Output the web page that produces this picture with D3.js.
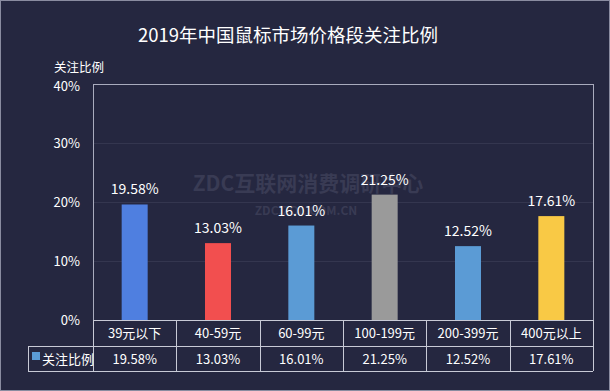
<!DOCTYPE html>
<html><head><meta charset="utf-8">
<script src="https://cdn.jsdelivr.net/npm/d3@7"></script>
<style>
html,body{margin:0;padding:0;background:#252740;}
svg{display:block;}
text{font-family:"Noto Sans CJK SC","Open Sans",sans-serif;}
</style></head>
<body>
<svg id="c" width="610" height="391"></svg>
<script>
const title = "2019年中国鼠标市场价格段关注比例";
const seriesName = "关注比例";
const categories = ["39元以下","40-59元","60-99元","100-199元","200-399元","400元以上"];
const values = [19.58, 13.03, 16.01, 21.25, 12.52, 17.61];
const colors = ["#4F7FE0","#F24F4F","#5B9BD5","#9A9A9A","#5B9BD5","#F9C945"];
const yTicks = [0,10,20,30,40];
const watermark = ["ZDC互联网消费调研中心","ZDC.ZOL.COM.CN"];

(function(){
const svg = d3.select("#c");
const W = 610, H = 391;
svg.append("rect").attr("x",0.5).attr("y",0.5).attr("width",W-1).attr("height",H-1)
  .attr("fill","#252740").attr("stroke","#8a8ca0").attr("stroke-width",1);

const pl = 93, pr = 593, pt = 84, pb = 320;
const x = d3.scaleBand().domain(categories).range([pl,pr]).paddingInner(0).paddingOuter(0);
const y = d3.scaleLinear().domain([0,40]).range([pb,pt]);

// watermark
svg.append("text").attr("x",308).attr("y",191).attr("text-anchor","middle")
  .attr("font-size",21).attr("font-weight","bold").attr("fill","#393b54").text(watermark[0]);
svg.append("text").attr("x",306).attr("y",215).attr("text-anchor","middle")
  .attr("font-size",12).attr("font-weight","bold").attr("fill","#393b54").text(watermark[1]);

// gridlines
svg.append("g").selectAll("line").data(yTicks.filter(t=>t>0 && t<40)).join("line")
  .attr("x1",pl).attr("x2",pr).attr("y1",d=>y(d)+0.5).attr("y2",d=>y(d)+0.5)
  .attr("stroke","#34364f").attr("stroke-width",1);

// plot frame
svg.append("rect").attr("x",pl+0.5).attr("y",pt+0.5).attr("width",pr-pl).attr("height",pb-pt)
  .attr("fill","none").attr("stroke","#a9abbd").attr("stroke-width",1);

// y axis
const yAxis = d3.axisLeft(y).tickValues(yTicks).tickFormat(d=>d+"%").tickSize(0).tickPadding(13);
const ga = svg.append("g").attr("transform",`translate(${pl},0)`).call(yAxis);
ga.select(".domain").remove();
ga.selectAll("text").attr("fill","#ffffff").attr("font-size",13)
  .style("font-family",'"Noto Sans CJK SC","Open Sans",sans-serif');
ga.selectAll(".tick").filter(d=>d===40).select("text").attr("dy","0.5em");
svg.append("text").attr("x",54).attr("y",72).attr("text-anchor","start").attr("font-size",12.5)
  .attr("fill","#ffffff").text(seriesName);

// bars
const bw = 26;
svg.append("g").selectAll("rect").data(values).join("rect")
  .attr("x",(d,i)=>x(categories[i])+x.bandwidth()/2-bw/2)
  .attr("width",bw)
  .attr("y",d=>y(d)).attr("height",d=>y(0)-y(d))
  .attr("fill",(d,i)=>colors[i]);

svg.append("g").selectAll("text").data(values).join("text")
  .attr("x",(d,i)=>x(categories[i])+x.bandwidth()/2)
  .attr("y",d=>y(d)-10)
  .attr("text-anchor","middle").attr("font-size",14).attr("fill","#ffffff")
  .text(d=>d.toFixed(2)+"%");

// title
svg.append("text").attr("x",288).attr("y",42).attr("text-anchor","middle")
  .attr("font-size",18.5).attr("fill","#ffffff").text(title);

// data table
const r1 = 320, r2 = 346, r3 = 371, tl = 28;
const tg = svg.append("g").attr("stroke","#c8cad6").attr("stroke-width",1).attr("fill","none");
tg.append("line").attr("x1",pl).attr("x2",pr).attr("y1",r1+0.5).attr("y2",r1+0.5);
tg.append("line").attr("x1",tl).attr("x2",pr).attr("y1",r2+0.5).attr("y2",r2+0.5);
tg.append("line").attr("x1",tl).attr("x2",pr).attr("y1",r3+0.5).attr("y2",r3+0.5);
tg.append("line").attr("x1",tl+0.5).attr("x2",tl+0.5).attr("y1",r2).attr("y2",r3);
const xs = categories.map(c=>x(c)).concat([pr]);
tg.selectAll("line.v").data(xs).join("line").attr("class","v")
  .attr("x1",d=>Math.round(d)+0.5).attr("x2",d=>Math.round(d)+0.5).attr("y1",r1).attr("y2",r3);

svg.append("g").selectAll("text").data(categories).join("text")
  .attr("x",d=>x(d)+x.bandwidth()/2).attr("y",338).attr("text-anchor","middle")
  .attr("font-size",13).attr("fill","#ffffff").text(d=>d);
svg.append("g").selectAll("text").data(values).join("text")
  .attr("x",(d,i)=>x(categories[i])+x.bandwidth()/2).attr("y",364).attr("text-anchor","middle")
  .attr("font-size",13).attr("fill","#ffffff").text(d=>d.toFixed(2)+"%");
svg.append("rect").attr("x",32).attr("y",352).attr("width",8).attr("height",8).attr("fill","#5B9BD5");
svg.append("text").attr("x",42).attr("y",364).attr("font-size",13).attr("fill","#ffffff").text(seriesName);
})();
</script>
</body></html>
